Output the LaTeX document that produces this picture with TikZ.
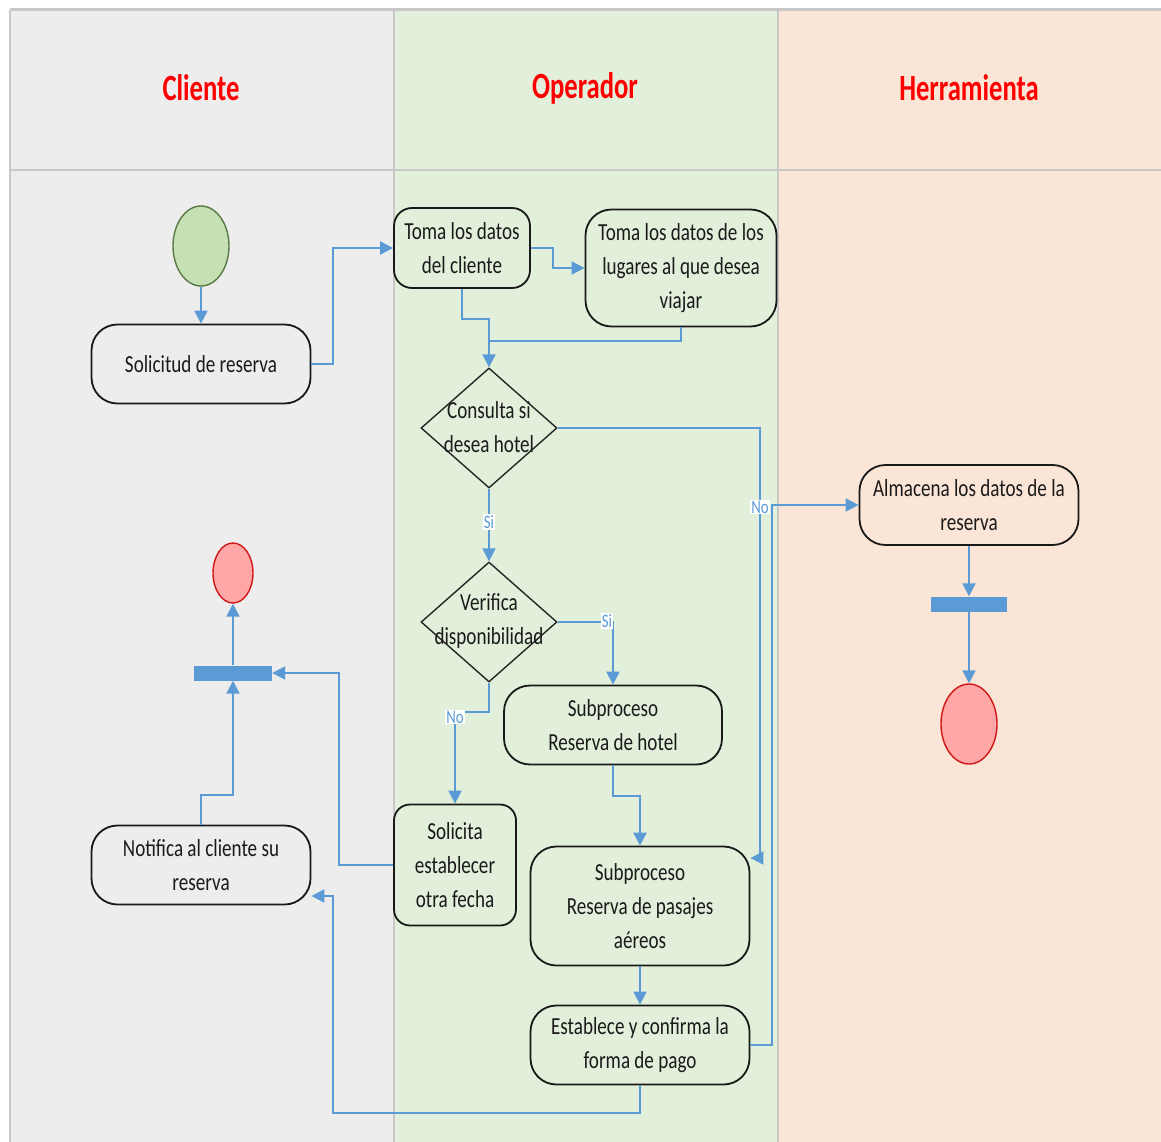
\documentclass[tikz,border=0pt]{standalone}
\usepackage{fontspec}
\setmainfont{Carlito}[FakeStretch=0.78]
\newfontfamily\hdrfont{Carlito}[FakeStretch=0.72]
\usetikzlibrary{arrows.meta,shapes.geometric,calc}
\definecolor{laneA}{HTML}{EDEDED}
\definecolor{laneB}{HTML}{E2EFDA}
\definecolor{laneC}{HTML}{FBE5D6}
\definecolor{gridc}{HTML}{C8C8C8}
\definecolor{conc}{HTML}{5B9BD5}
\definecolor{startf}{HTML}{C5E0B4}
\definecolor{starte}{HTML}{5A7A45}
\definecolor{endf}{HTML}{FFA7A7}
\definecolor{ende}{HTML}{D01818}
\definecolor{txtc}{HTML}{1A1A1A}
\begin{document}
\begin{tikzpicture}[x=1pt,y=-1pt,
  bodyfont/.style={font=\fontsize{24.5}{34}\selectfont, text=txtc},
  box/.style={draw=black!90, line width=1.8pt, rounded corners=26pt, align=center, inner sep=0pt, bodyfont},
  diam/.style={diamond, draw=black!85, line width=1.4pt, minimum width=136pt, minimum height=120pt, inner sep=0pt},
  txt/.style={align=center, inner sep=0pt, bodyfont},
  conn/.style={draw=conc, line width=2pt, -{Triangle[length=13pt,width=13pt]}},
  plain/.style={draw=conc, line width=2pt},
  lbl/.style={fill=white, text=conc, inner sep=1pt, font=\fontsize{19}{19}\selectfont},
  hdr/.style={text=red, font=\hdrfont\bfseries\fontsize{37}{37}\selectfont},
  startc/.style={ellipse, draw=starte, line width=1.4pt, fill=startf, inner sep=0pt},
  endc/.style={ellipse, draw=ende, line width=1.4pt, fill=endf, inner sep=0pt},
  bar/.style={rectangle, fill=conc, inner sep=0pt, minimum width=78pt, minimum height=15pt}
]
\useasboundingbox (0,0) rectangle (1161,1142);
% lanes
\fill[white] (0,0) rectangle (1161,1142);
\fill[laneA] (10,10) rectangle (394,1142);
\fill[laneB] (394,10) rectangle (778,1142);
\fill[laneC] (778,10) rectangle (1161,1142);
\draw[gridc, line width=3pt] (10,10) -- (1161,10);
\draw[gridc, line width=1.2pt] (10,10) -- (10,1142);
\draw[gridc, line width=1.2pt] (394,10) -- (394,1142);
\draw[gridc, line width=1.2pt] (778,10) -- (778,1142);
\draw[gridc, line width=2.5pt] (10,170) -- (1161,170);
% headers
\node[hdr] (h1) at (201,88) {Cliente};
\node[hdr] (h2) at (585,88) {Operador};
\node[hdr] (h3) at (969,88) {Herramienta};
% nodes
\node[startc, minimum width=56pt, minimum height=80pt] (start) at (201,246) {};
\node[box, minimum width=219pt, minimum height=79pt] (sol) at (201,364) {Solicitud de reserva};
\node[box, rounded corners=18pt, minimum width=136pt, minimum height=80pt] (toma) at (462,248) {Toma los datos\\del cliente};
\node[box, minimum width=191pt, minimum height=117pt] (lug) at (681,268) {Toma los datos de los\\lugares al que desea\\viajar};
\node[diam] (cons) at (489,428) {};
\node[txt] (consT) at (489,427) {Consulta si\\desea hotel};
\node[diam] (ver) at (489,622) {};
\node[txt] (verT) at (489,621) {Verifica\\disponibilidad};
\node[box, minimum width=218pt, minimum height=79pt] (hot) at (613,725) {Subproceso\\Reserva de hotel};
\node[box, rounded corners=16pt, minimum width=122pt, minimum height=121pt] (sol2) at (455,865) {Solicita\\establecer\\otra fecha};
\node[box, minimum width=219pt, minimum height=119pt] (pas) at (640,906) {Subproceso\\Reserva de pasajes\\aéreos};
\node[box, minimum width=219pt, minimum height=79pt] (est) at (640,1045) {Establece y confirma la\\forma de pago};
\node[box, minimum width=219pt, minimum height=79pt] (not) at (201,865) {Notifica al cliente su\\reserva};
\node[endc, minimum width=40pt, minimum height=60pt] (endL) at (233,573) {};
\node[bar] (barL) at (233,673) {};
\node[box, minimum width=219pt, minimum height=80pt] (alm) at (969,505) {Almacena los datos de la\\reserva};
\node[bar, minimum width=76pt] (barR) at (969,604) {};
\node[endc, minimum width=56pt, minimum height=80pt] (endR) at (969,724) {};
% helper coordinates
\coordinate (j1) at (489,341);
\coordinate (c1) at (760,858);
\coordinate (c2) at (333,1113);
\coordinate (c3) at (333,896);
% connectors
\draw[conn] (start.south) -- (sol.north);
\draw[conn] (sol.east) -- ++(22,0) |- (toma.west);
\draw[conn] (toma.east) -- ++(22,0) |- (lug.west);
\draw[conn] (toma.south) -- ++(0,30) -| (cons.north);
\draw[plain] (lug.south) |- (j1);
\draw[conn] (cons.east) -| (c1) -- (pas.east |- c1);
\draw[conn] (cons.south) -- (ver.north);
\draw[conn] (ver.east) -| (hot.north);
\draw[conn] (ver.south) -- ++(0,29) -| (sol2.north);
\draw[conn] (hot.south) -- ++(0,31) -| (pas.north);
\draw[conn] (pas.south) -- (est.north);
\draw[conn] (est.east) -- ++(22,0) |- (alm.west);
\draw[conn] (est.south) |- (c2) |- (not.east |- c3);
\draw[conn] (sol2.west) -- ++(-54,0) |- (barL.east);
\draw[conn] (not.north) -- ++(0,-30) -| (barL.south);
\draw[conn] (barL.north) -- (endL.south);
\draw[conn] (alm.south) -- (barR.north);
\draw[conn] (barR.south) -- (endR.north);
% labels
\node[lbl] (l1) at (489,522) {Si};
\node[lbl] (l2) at (760,507) {No};
\node[lbl] (l3) at (607,621) {Si};
\node[lbl] (l4) at (455,717) {No};
\end{tikzpicture}
\end{document}
